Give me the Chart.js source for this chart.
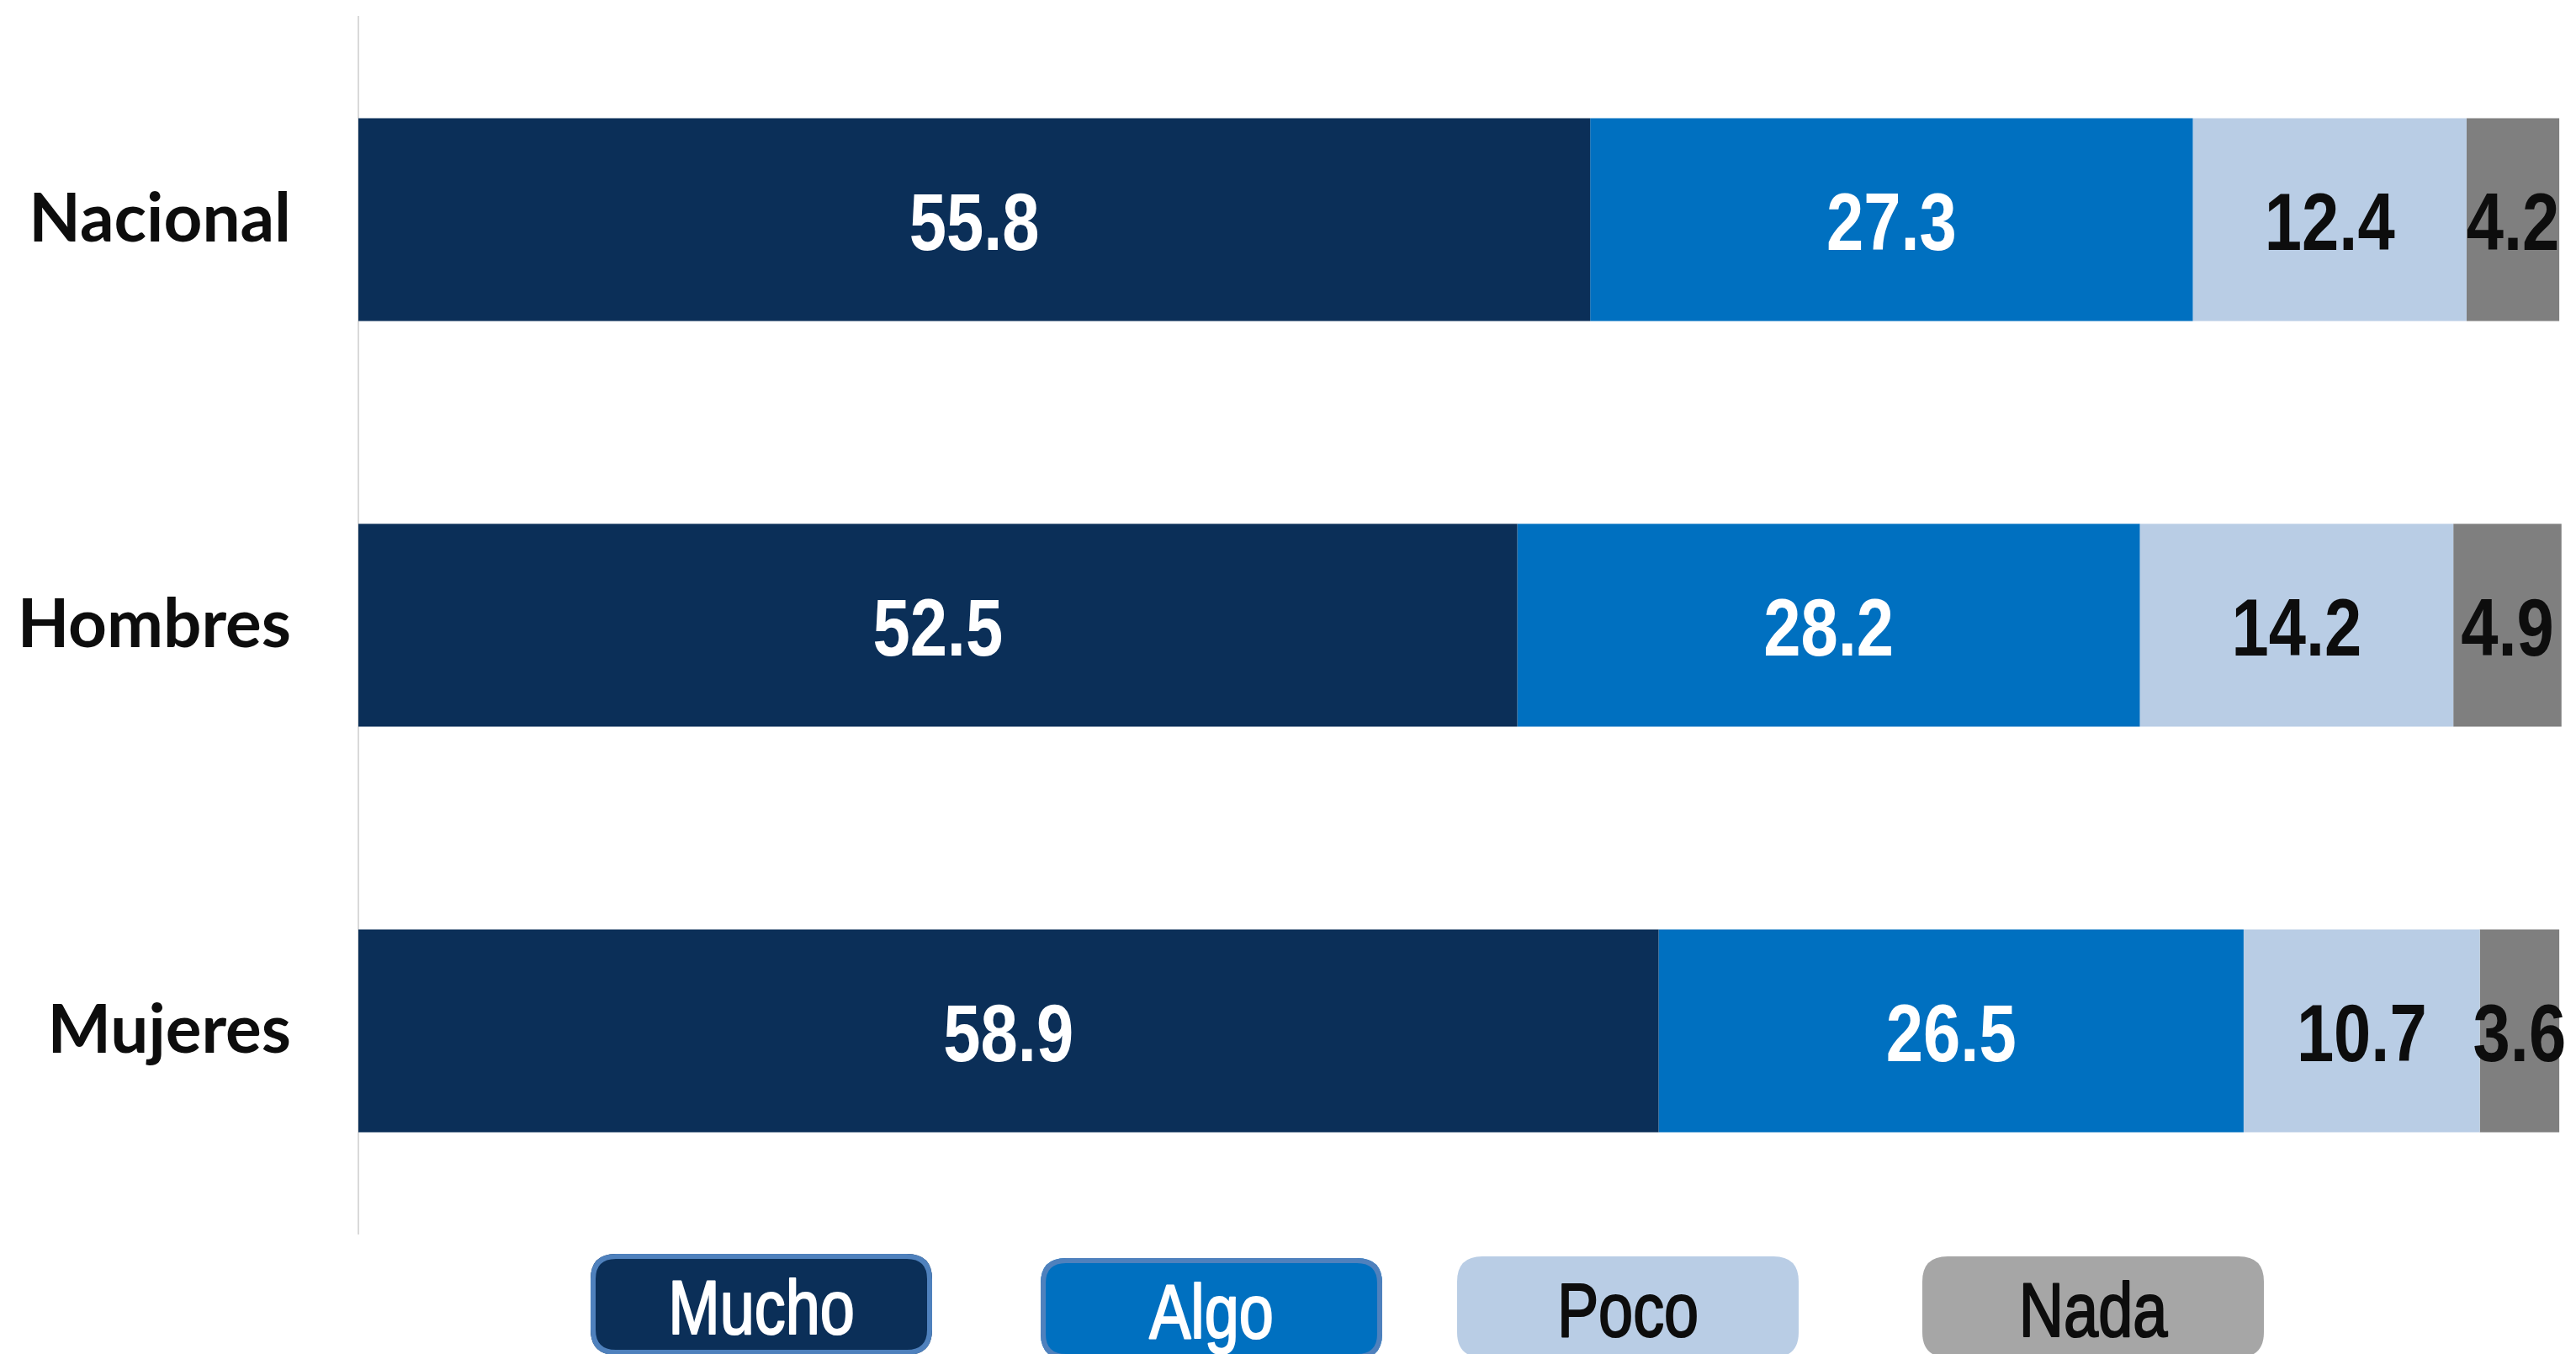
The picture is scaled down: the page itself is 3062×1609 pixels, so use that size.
<!DOCTYPE html>
<html><head><meta charset="utf-8">
<script src="https://cdn.jsdelivr.net/npm/chart.js@4.4.1/dist/chart.umd.min.js"></script>
<style>html,body{margin:0;padding:0;background:#fff;overflow:hidden}#wrap{width:3062px;height:1609px;position:relative}</style>
</head><body><div id="wrap"><canvas id="c" width="3062" height="1609"></canvas></div>
<script>
const categories = ['Nacional', 'Hombres', 'Mujeres'];
const seriesNames = ['Mucho', 'Algo', 'Poco', 'Nada'];
const mucho = [55.8, 52.5, 58.9];
const algo = [27.3, 28.2, 26.5];
const poco = [12.4, 14.2, 10.7];
const nada = [4.2, 4.9, 3.6];
const seriesValues = [mucho, algo, poco, nada];

const barColors = ['#0B2F58', '#0070C0', '#B9CDE5', '#7F7F7F'];
const legendFill = ['#0B2F58', '#0070C0', '#B9CDE5', '#A6A6A6'];
const legendBorder = ['#4F81BD', '#4F81BD', null, null];
const textColors = ['#FFFFFF', '#FFFFFF', '#0D0D0D', '#0D0D0D'];
const SANS = '"Liberation Sans", Arial, sans-serif';
const NARROW_SCALE = 0.82;

function narrowText(ctx, text, x, y, strokeW) {
  ctx.save();
  ctx.translate(x, y);
  ctx.scale(NARROW_SCALE, 1);
  ctx.fillText(text, 0, 0);
  if (strokeW) {
    ctx.lineWidth = strokeW;
    ctx.lineJoin = 'round';
    ctx.strokeStyle = ctx.fillStyle;
    ctx.strokeText(text, 0, 0);
  }
  ctx.restore();
}

const valueLabels = {
  id: 'valueLabels',
  afterDatasetsDraw(chart) {
    const ctx = chart.ctx;
    ctx.save();
    ctx.font = 'bold 97px ' + SANS;
    ctx.textAlign = 'center';
    ctx.textBaseline = 'alphabetic';
    chart.data.datasets.forEach((ds, i) => {
      const meta = chart.getDatasetMeta(i);
      meta.data.forEach((el, j) => {
        const p = el.getProps(['x', 'base', 'y'], true);
        ctx.fillStyle = textColors[i];
        narrowText(ctx, ds.data[j].toFixed(1), (p.x + p.base) / 2, p.y + 36, 0);
      });
    });
    ctx.restore();
  }
};

function rr(ctx, x, y, w, h, r) {
  ctx.beginPath();
  ctx.moveTo(x + r, y);
  ctx.lineTo(x + w - r, y);
  ctx.quadraticCurveTo(x + w, y, x + w, y + r);
  ctx.lineTo(x + w, y + h - r);
  ctx.quadraticCurveTo(x + w, y + h, x + w - r, y + h);
  ctx.lineTo(x + r, y + h);
  ctx.quadraticCurveTo(x, y + h, x, y + h - r);
  ctx.lineTo(x, y + r);
  ctx.quadraticCurveTo(x, y, x + r, y);
  ctx.closePath();
}

const boxLegend = {
  id: 'boxLegend',
  afterDraw(chart) {
    const ctx = chart.ctx;
    const lefts = [702, 1237, 1732, 2285];
    const tops = [1490, 1495, 1493, 1493];
    const w = 406, h = 120, r = 30;
    ctx.save();
    chart.data.datasets.forEach((ds, i) => {
      rr(ctx, lefts[i], tops[i], w, h, r);
      ctx.fillStyle = legendFill[i];
      ctx.fill();
      if (legendBorder[i]) {
        ctx.lineWidth = 6;
        ctx.strokeStyle = legendBorder[i];
        rr(ctx, lefts[i] + 3, tops[i] + 3, w - 6, h - 6, r - 3);
        ctx.stroke();
      }
      ctx.fillStyle = textColors[i];
      ctx.font = '90px ' + SANS;
      ctx.textAlign = 'center';
      ctx.textBaseline = 'alphabetic';
      narrowText(ctx, ds.label, lefts[i] + w / 2, tops[i] + 95, 2.2);
    });
    ctx.restore();
  }
};

new Chart(document.getElementById('c'), {
  type: 'bar',
  data: {
    labels: categories,
    datasets: seriesNames.map((name, i) => ({
      label: name,
      data: seriesValues[i],
      backgroundColor: barColors[i],
      borderWidth: 0,
      barPercentage: 0.5,
      categoryPercentage: 1.0
    }))
  },
  options: {
    indexAxis: 'y',
    responsive: false,
    devicePixelRatio: 1,
    animation: false,
    layout: { padding: { top: 20, right: 12, bottom: 143, left: 0 } },
    plugins: { legend: { display: false }, tooltip: { enabled: false } },
    scales: {
      x: { stacked: true, min: 0, max: 100, display: false },
      y: {
        stacked: true,
        grid: { display: false, drawTicks: false },
        border: { display: true, color: '#D9D9D9', width: 2 },
        ticks: {
          color: '#0D0D0D',
          padding: 80,
          font: { family: 'Lato, "Open Sans", sans-serif', weight: 'bold', size: 80 }
        },
        afterFit(scale) {
          scale.width = 426;
          scale.paddingTop = 0;
          scale.paddingBottom = 0;
        }
      }
    }
  },
  plugins: [valueLabels, boxLegend]
});
</script>
</body></html>
